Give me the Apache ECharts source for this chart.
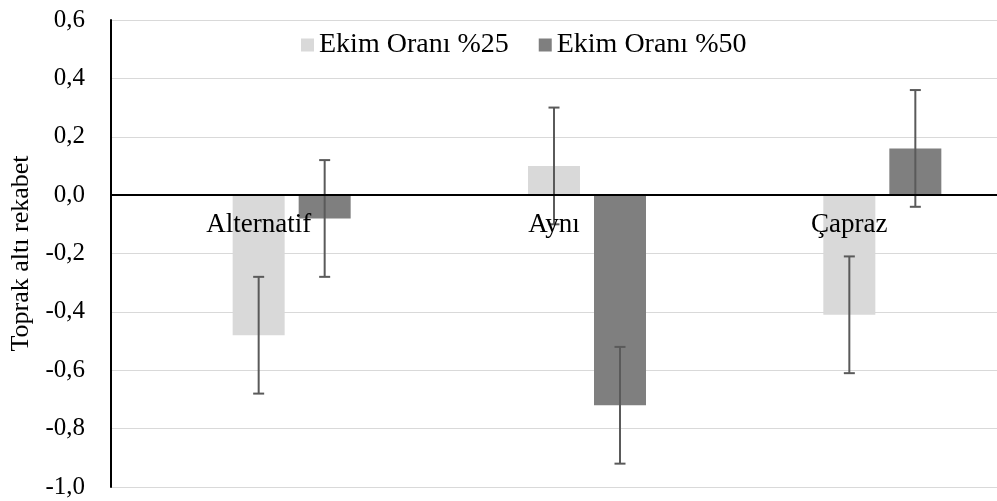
<!DOCTYPE html>
<html>
<head>
<meta charset="utf-8">
<script src="https://cdn.jsdelivr.net/npm/echarts@6/dist/echarts.min.js"></script>
<style>
  html, body { margin: 0; padding: 0; background: #fff; }
  #chart { width: 997px; height: 501px; }
</style>
</head>
<body>
<div id="chart"></div>
<script>
// values
const categories = ['Alternatif', 'Aynı', 'Çapraz'];
const rate25     = [-0.48, 0.10, -0.41];
const rate50     = [-0.08, -0.72, 0.16];
const err25      = [0.2, 0.2, 0.2];
const err50      = [0.2, 0.2, 0.2];
const yTicks     = { min: -1, max: 0.6, step: 0.2 };

const FONT   = '"Liberation Serif", "DejaVu Serif", serif';
const BAR_W  = 52;
const GAP    = 14;
const GRID   = { left: 111, right: -11, top: 20, bottom: 14 };
const HEIGHT = 501;

function errData(vals, errs) {
  return vals.map((v, i) => [i, v - errs[i], v + errs[i]]);
}

// slot: bar position relative to category center, in bar steps
function errorBar(slot) {
  return function (params, api) {
    const idx = api.value(0);
    const x   = api.coord([idx, 0])[0] + slot * (BAR_W + GAP);
    const lo  = api.coord([idx, api.value(1)])[1];
    const hi  = api.coord([idx, api.value(2)])[1];
    const cap = 5.5;
    const style = { stroke: '#5a5a5a', lineWidth: 2 };
    return {
      type    : 'group',
      children: [
        { type: 'line', shape: { x1: x, y1: lo, x2: x, y2: hi }, style },
        { type: 'line', shape: { x1: x - cap, y1: lo, x2: x + cap, y2: lo }, style },
        { type: 'line', shape: { x1: x - cap, y1: hi, x2: x + cap, y2: hi }, style }
      ]
    };
  };
}

// move the category axis (line + labels) up to the zero value
const plotH    = HEIGHT - GRID.top - GRID.bottom;
const zeroLift = plotH * (0 - yTicks.min) / (yTicks.max - yTicks.min);

const chart = echarts.init(document.getElementById('chart'), null, { renderer: 'canvas' });

chart.setOption({
  animation: false,
  textStyle: { fontFamily: FONT },
  grid     : GRID,
  legend   : {
    data      : ['Ekim Oranı %25', 'Ekim Oranı %50'],
    left      : 296,
    top       : 26,
    icon      : 'rect',
    itemWidth : 13,
    itemHeight: 13,
    itemGap   : 30,
    textStyle : { fontFamily: FONT, fontSize: 28, color: '#000' }
  },
  xAxis: {
    type     : 'category',
    data     : categories,
    offset   : -zeroLift,
    z        : 10,
    axisLine : { onZero: false, lineStyle: { color: '#000', width: 2 } },
    axisTick : { show: false },
    axisLabel: { fontFamily: FONT, fontSize: 27, color: '#000', margin: 16 },
    splitLine: { show: false }
  },
  yAxis: {
    type        : 'value',
    min         : yTicks.min,
    max         : yTicks.max,
    interval    : yTicks.step,
    name        : 'Toprak altı rekabet',
    nameLocation: 'middle',
    nameGap     : 75,
    nameTextStyle: { fontFamily: FONT, fontSize: 26, color: '#000' },
    axisLine    : { show: true, lineStyle: { color: '#000', width: 2 } },
    axisTick    : { show: false },
    axisLabel   : {
      fontFamily: FONT,
      fontSize  : 25,
      color     : '#000',
      margin    : 26,
      formatter : v => v.toFixed(1).replace('.', ',')
    },
    splitLine   : { lineStyle: { color: '#d9d9d9', width: 1 } }
  },
  series: [
    {
      // empty slot that keeps the two bars right of the category center
      name    : '',
      type    : 'bar',
      barWidth: BAR_W,
      barGap  : (GAP / BAR_W * 100) + '%',
      data    : categories.map(() => '-')
    },
    {
      name     : 'Ekim Oranı %25',
      type     : 'bar',
      barWidth : BAR_W,
      barGap   : (GAP / BAR_W * 100) + '%',
      itemStyle: { color: '#d9d9d9' },
      data     : rate25
    },
    {
      name     : 'Ekim Oranı %50',
      type     : 'bar',
      barWidth : BAR_W,
      barGap   : (GAP / BAR_W * 100) + '%',
      itemStyle: { color: '#7f7f7f' },
      data     : rate50
    },
    {
      name      : 'err25',
      type      : 'custom',
      renderItem: errorBar(0),
      encode    : { x: 0, y: [1, 2] },
      z         : 5,
      data      : errData(rate25, err25)
    },
    {
      name      : 'err50',
      type      : 'custom',
      renderItem: errorBar(1),
      encode    : { x: 0, y: [1, 2] },
      z         : 5,
      data      : errData(rate50, err50)
    }
  ]
});
</script>
</body>
</html>
